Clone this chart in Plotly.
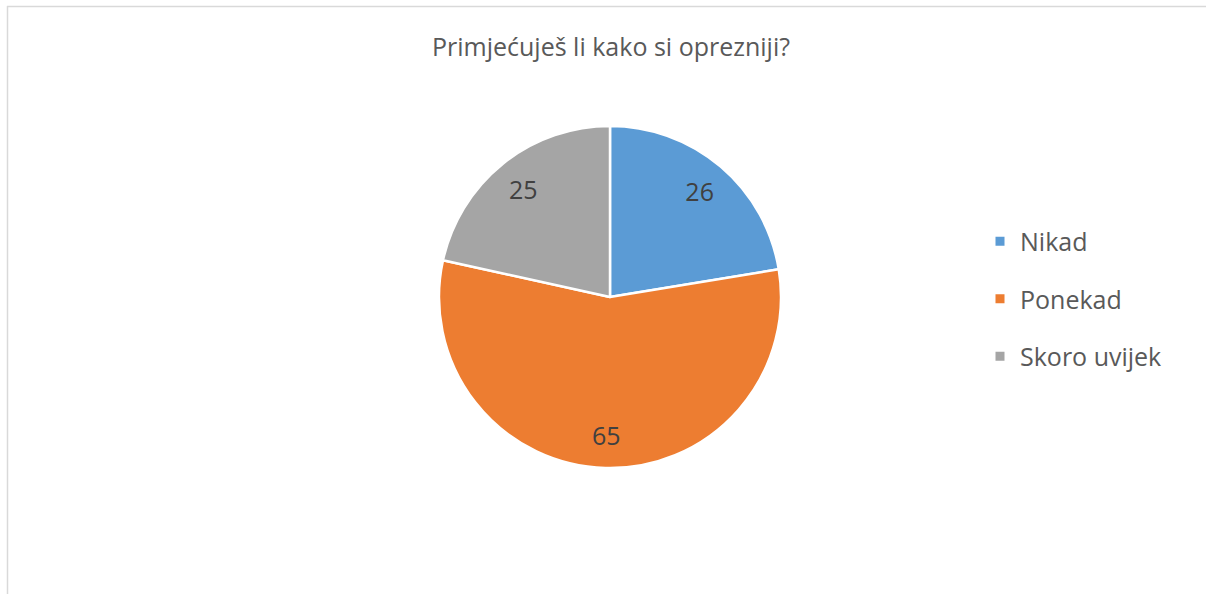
import plotly.graph_objects as go

categories = ["Nikad", "Ponekad", "Skoro uvijek"]
values = [26, 65, 25]
colors = ["#5B9BD5", "#ED7D31", "#A5A5A5"]
title_text = "Primjećuješ li kako si oprezniji?"

W, H = 1206, 594
cx, cy, r = 610, 297, 171
dom = dict(x=[(cx - r) / W, (cx + r) / W], y=[1 - (cy + r) / H, 1 - (cy - r) / H])

fig = go.Figure()
# full pie (slices)
fig.add_trace(go.Pie(
    labels=categories, values=values, sort=False, direction="clockwise", rotation=0,
    marker=dict(colors=colors, line=dict(color="white", width=2.5)),
    textinfo="none", domain=dom, showlegend=False, hoverinfo="label+value",
))
# transparent ring carrying the data labels (places them near the outer part)
fig.add_trace(go.Pie(
    labels=categories, values=values, sort=False, direction="clockwise", rotation=0,
    hole=0.62,
    marker=dict(colors=["rgba(0,0,0,0)"] * len(values), line=dict(width=0)),
    textinfo="value", textposition="inside", insidetextorientation="horizontal",
    textfont=dict(family="Open Sans", size=25, color="#404040"),
    domain=dom, showlegend=False, hoverinfo="skip",
))
# legend entries
for i, (c, col) in enumerate(zip(categories, colors)):
    fig.add_trace(go.Scatter(
        x=[None], y=[None], mode="markers", name=c, legendgroup=c,
        marker=dict(symbol="square", size=9, color=col),
    ))

fig.update_layout(
    width=W, height=H,
    margin=dict(l=0, r=0, t=0, b=0),
    paper_bgcolor="white",
    plot_bgcolor="white",
    xaxis=dict(visible=False), yaxis=dict(visible=False),
    title=dict(text=title_text, x=611 / W, xanchor="center", y=1 - 47 / H, yanchor="middle",
               font=dict(family="Open Sans", size=25, color="#595959")),
    legend=dict(x=980 / W, xanchor="left", y=1 - 299 / H, yanchor="middle",
                font=dict(family="Open Sans", size=25, color="#595959"),
                traceorder="grouped", tracegroupgap=22, bgcolor="rgba(0,0,0,0)"),
    showlegend=True,
    shapes=[
        dict(type="line", xref="paper", yref="paper", x0=7 / W, x1=1.01, y0=1 - 6.5 / H, y1=1 - 6.5 / H,
             line=dict(color="#D9D9D9", width=1.5)),
        dict(type="line", xref="paper", yref="paper", x0=7.5 / W, x1=7.5 / W, y0=-0.01, y1=1 - 6 / H,
             line=dict(color="#D9D9D9", width=1.5)),
    ],
)

fig.write_html("out.html")
